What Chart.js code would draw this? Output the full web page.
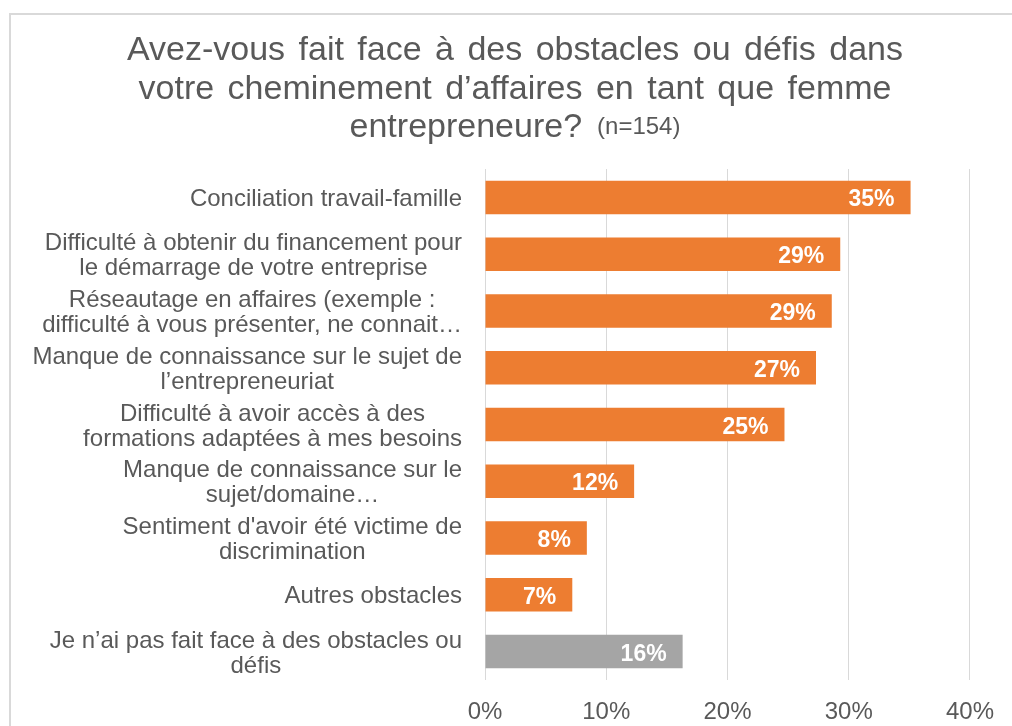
<!DOCTYPE html>
<html>
<head>
<meta charset="utf-8">
<script src="https://cdn.jsdelivr.net/npm/chart.js@4.4.1/dist/chart.umd.min.js"></script>
<style>
  html, body { margin: 0; padding: 0; background: #ffffff; }
  #wrap { position: relative; width: 1012px; height: 726px; overflow: hidden; }
  canvas { display: block; }
</style>
</head>
<body>
<div id="wrap"><canvas id="c" width="1012" height="726"></canvas></div>
<script>
// ---- data ----
const titleLines = [
  "Avez-vous fait face à des obstacles ou défis dans",
  "votre cheminement d’affaires en tant que femme",
  "entrepreneure?"
];
const titleNote = "(n=154)";

const categories = [
  ["Conciliation travail-famille"],
  ["Difficulté à obtenir du financement pour", "le démarrage de votre entreprise"],
  ["Réseautage en affaires (exemple :", "difficulté à vous présenter, ne connait…"],
  ["Manque de connaissance sur le sujet de", "l’entrepreneuriat"],
  ["Difficulté à avoir accès à des", "formations adaptées à mes besoins"],
  ["Manque de connaissance sur le", "sujet/domaine…"],
  ["Sentiment d'avoir été victime de", "discrimination"],
  ["Autres obstacles"],
  ["Je n’ai pas fait face à des obstacles ou", "défis"]
];
const values = [35.1, 29.3, 28.6, 27.3, 24.7, 12.3, 8.4, 7.2, 16.3];
const xTickValues = [0, 10, 20, 30, 40];

// ---- styles ----
const ORANGE = "#ED7D31";
const GREY = "#A5A5A5";
const barColors = categories.map((c, i) => i === categories.length - 1 ? GREY : ORANGE);
const TEXT = "#595959";
const FONT = '"Liberation Sans", Arial, sans-serif';

const framePlugin = {
  id: "frame",
  beforeDraw(chart) {
    const ctx = chart.ctx;
    ctx.save();
    ctx.fillStyle = "#ffffff";
    ctx.fillRect(0, 0, chart.width, chart.height);
    ctx.fillStyle = "#D9D9D9";
    ctx.fillRect(9, 13, chart.width, 2);
    ctx.fillRect(9, 13, 2, chart.height);
    ctx.restore();
  }
};

const titlePlugin = {
  id: "customTitle",
  afterDraw(chart) {
    const ctx = chart.ctx;
    ctx.save();
    ctx.fillStyle = TEXT;
    ctx.textBaseline = "alphabetic";
    ctx.font = "34px " + FONT;
    try { ctx.wordSpacing = "4px"; } catch (e) {}
    const cx = 515;
    const baselines = [60, 99, 137];
    ctx.textAlign = "center";
    ctx.fillText(titleLines[0], cx, baselines[0]);
    ctx.fillText(titleLines[1], cx, baselines[1]);
    const w1 = ctx.measureText(titleLines[2]).width;
    ctx.font = "24px " + FONT;
    const w2 = ctx.measureText(titleNote).width;
    const gap = 15;
    const start = cx - (w1 + gap + w2) / 2;
    ctx.textAlign = "left";
    ctx.font = "34px " + FONT;
    ctx.fillText(titleLines[2], start, baselines[2]);
    ctx.font = "24px " + FONT;
    ctx.fillText(titleNote, start + w1 + gap, baselines[2] - 3);
    ctx.restore();
  }
};

const catLabelPlugin = {
  id: "catLabels",
  afterDraw(chart) {
    const ctx = chart.ctx;
    const yScale = chart.scales.y;
    const rightEdge = chart.chartArea.left - 23;
    const lineH = 25;
    ctx.save();
    ctx.fillStyle = TEXT;
    ctx.font = "24px " + FONT;
    ctx.textAlign = "center";
    ctx.textBaseline = "alphabetic";
    categories.forEach((lines, i) => {
      const cy = yScale.getPixelForTick(i);
      const maxW = Math.max(...lines.map(l => ctx.measureText(l).width));
      const cx = rightEdge - maxW / 2;
      const y0 = cy - (lines.length - 1) * lineH / 2;
      lines.forEach((l, k) => ctx.fillText(l, cx, y0 + k * lineH + 8.5));
    });
    ctx.restore();
  }
};

const valueLabelPlugin = {
  id: "valueLabels",
  afterDatasetsDraw(chart) {
    const ctx = chart.ctx;
    const meta = chart.getDatasetMeta(0);
    ctx.save();
    ctx.fillStyle = "#ffffff";
    ctx.font = "bold 23px " + FONT;
    ctx.textAlign = "right";
    ctx.textBaseline = "alphabetic";
    meta.data.forEach((bar, i) => {
      ctx.fillText(Math.round(values[i]) + "%", bar.x - 16, bar.y + 9);
    });
    ctx.restore();
  }
};

new Chart(document.getElementById("c"), {
  type: "bar",
  data: {
    labels: categories,
    datasets: [{
      data: values,
      backgroundColor: barColors,
      borderWidth: 0,
      categoryPercentage: 1.0,
      barPercentage: 0.59
    }]
  },
  options: {
    indexAxis: "y",
    responsive: false,
    devicePixelRatio: 1,
    animation: false,
    layout: { padding: { top: 169, left: 0, right: 41, bottom: 0 } },
    plugins: {
      legend: { display: false },
      title: { display: false },
      tooltip: { enabled: false }
    },
    scales: {
      x: {
        min: 0,
        max: 40,
        afterBuildTicks(scale) { scale.ticks = xTickValues.map(v => ({ value: v })); },
        afterFit(scale) { scale.height = 46; },
        grid: { color: "#D9D9D9", lineWidth: 1, drawTicks: false },
        border: { display: false },
        ticks: {
          padding: 18,
          color: TEXT,
          font: { family: FONT, size: 24 },
          callback: v => v + "%"
        }
      },
      y: {
        afterFit(scale) { scale.width = 485; },
        grid: { display: false },
        border: { display: false },
        ticks: { display: false }
      }
    }
  },
  plugins: [framePlugin, titlePlugin, catLabelPlugin, valueLabelPlugin]
});
</script>
</body>
</html>
